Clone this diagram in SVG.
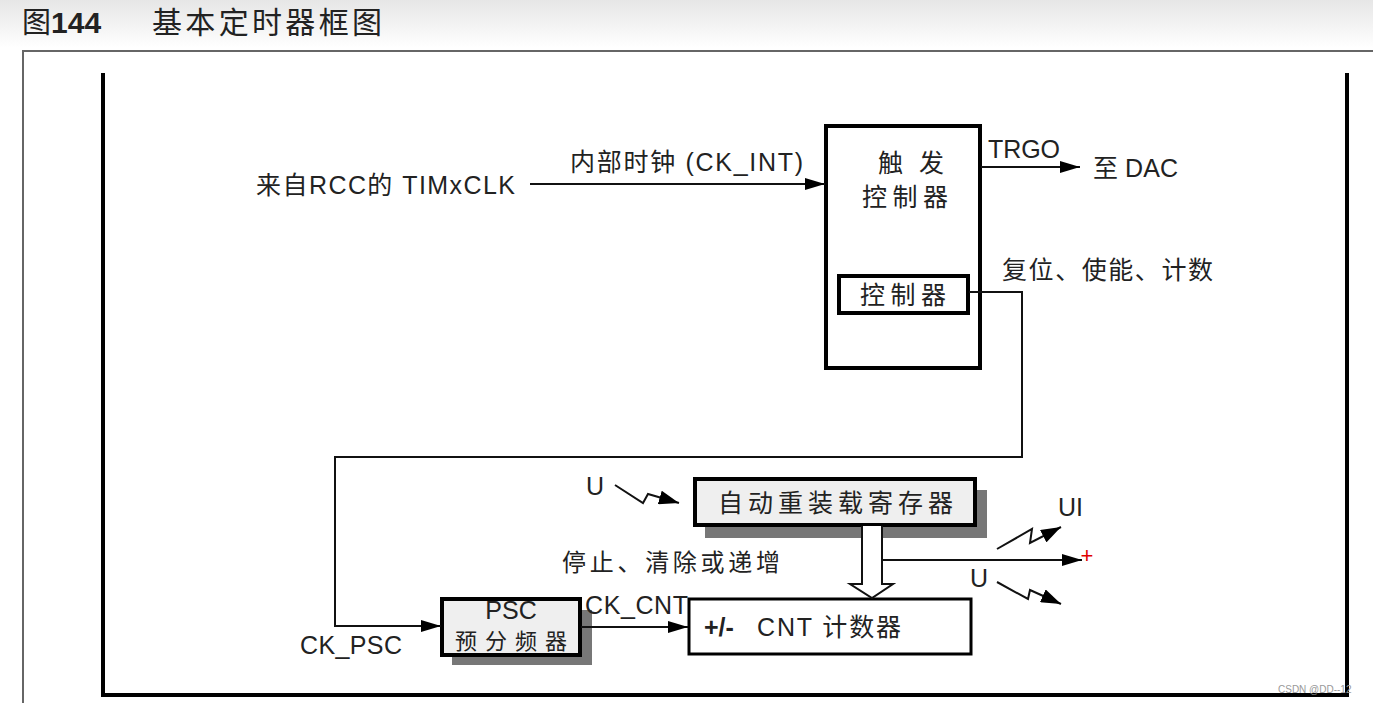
<svg xmlns="http://www.w3.org/2000/svg" width="1373" height="703" viewBox="0 0 1373 703">
<defs>
<linearGradient id="hdr" x1="0" y1="0" x2="0" y2="1">
<stop offset="0" stop-color="#e6e6e6"/>
<stop offset="1" stop-color="#ffffff"/>
</linearGradient>
<marker id="arr" viewBox="0 0 20 12" refX="20" refY="6" markerWidth="20" markerHeight="12" markerUnits="userSpaceOnUse" orient="auto">
<path d="M0,0 L20,6 L0,12 Z" fill="#000"/>
</marker>
<marker id="arrs" viewBox="0 0 20 14" refX="20" refY="7" markerWidth="20" markerHeight="14" markerUnits="userSpaceOnUse" orient="auto">
<path d="M0,0 L20,7 L0,14 Z" fill="#000"/>
</marker>
</defs>
<style>
.t{font-family:"Liberation Sans","Noto Sans CJK SC",sans-serif;fill:#222;font-size:25px}
.c{font-family:"Noto Sans CJK SC","Liberation Sans",sans-serif;fill:#222}
.ln{stroke:#111;stroke-width:2;fill:none}
.box{stroke:#000;stroke-width:4}
</style>
<rect x="0" y="0" width="1373" height="48" fill="url(#hdr)"/>
<text x="22" y="33" class="c" font-size="29" fill="#333">图<tspan font-family="Liberation Sans" font-weight="bold" font-size="30">144</tspan></text>
<text x="152" y="33" class="c" font-size="30" fill="#333" textLength="230" lengthAdjust="spacing">基本定时器框图</text>
<path d="M23,703 L23,51 L1373,51" fill="none" stroke="#666" stroke-width="2"/>
<path d="M103,73 L103,695 L1347,695 L1347,73" fill="none" stroke="#000" stroke-width="4"/>

<g id="trigger">
<rect x="826" y="126" width="154" height="242" fill="#fff" class="box"/>
<text x="878" y="172" class="c" font-size="25" textLength="66" lengthAdjust="spacing">触发</text>
<text x="862" y="206" class="c" font-size="25" textLength="86" lengthAdjust="spacing">控制器</text>
<rect x="839" y="276" width="129" height="37" fill="#fff" class="box"/>
<text x="860" y="304" class="c" font-size="25" textLength="86" lengthAdjust="spacing">控制器</text>
</g>

<g id="reload">
<rect x="705" y="490" width="282" height="48" fill="#777"/>
<rect x="695" y="479" width="280" height="46" fill="#efefef" class="box"/>
<text x="718" y="512" class="c" font-size="25" textLength="235" lengthAdjust="spacing">自动重装载寄存器</text>
</g>

<g id="psc">
<rect x="452" y="610" width="140" height="55" fill="#777"/>
<rect x="442" y="599" width="138" height="56" fill="#efefef" class="box"/>
<text x="511" y="619" class="t" font-size="21" text-anchor="middle">PSC</text>
<text x="455" y="649" class="c" font-size="22" textLength="112" lengthAdjust="spacing">预分频器</text>
</g>

<g id="cnt">
<rect x="689" y="599" width="282" height="55" fill="#fff" stroke="#000" stroke-width="3"/>
<text x="704" y="636" class="t" font-weight="bold" font-size="24">+/-</text>
<text x="757" y="636" class="t" textLength="144" lengthAdjust="spacing">CNT <tspan class="c">计数器</tspan></text>
</g>

<g id="connectors">
<path d="M530,184 L825,184" class="ln" marker-end="url(#arr)"/>
<path d="M981,167 L1080,167" class="ln" marker-end="url(#arr)"/>
<path d="M969,292 L1022,292 L1022,457 L335,457 L335,626 L441,626" class="ln" marker-end="url(#arr)"/>
<path d="M581,627 L688,627" class="ln" marker-end="url(#arr)"/>
<path d="M882,560 L1082,560" class="ln" marker-end="url(#arr)"/>
<path d="M862,526 L862,584 L850,584 L872,598 L893,584 L882,584 L882,526" fill="#fff" stroke="#111" stroke-width="2"/>
<path d="M615,485 L643,503 L648,494 L679,503" class="ln" marker-end="url(#arrs)"/>
<path d="M997,549 L1032,529 L1030,543 L1061,527" class="ln" marker-end="url(#arrs)"/>
<path d="M997,582 L1028,599 L1030,590 L1061,604" class="ln" marker-end="url(#arrs)"/>
</g>

<g id="labels">
<text x="256" y="194" class="t" textLength="259" lengthAdjust="spacing">来自RCC的 TIMxCLK</text>
<text x="570" y="171" class="t" textLength="233" lengthAdjust="spacing">内部时钟 (CK_INT)</text>
<text x="988" y="158" class="t" textLength="72" lengthAdjust="spacing">TRGO</text>
<text x="1093" y="177" class="t" textLength="85" lengthAdjust="spacing">至 DAC</text>
<text x="1002" y="279" class="c" font-size="25" textLength="211" lengthAdjust="spacing">复位、使能、计数</text>
<text x="562" y="571" class="c" font-size="24" textLength="218" lengthAdjust="spacing">停止、清除或递增</text>
<text x="586" y="495" class="t">U</text>
<text x="585" y="614" class="t" textLength="103" lengthAdjust="spacing">CK_CNT</text>
<text x="300" y="654" class="t" textLength="102" lengthAdjust="spacing">CK_PSC</text>
<text x="1058" y="516" class="t">UI</text>
<text x="970" y="587" class="t">U</text>
<text x="1087" y="563" font-family="Liberation Sans,sans-serif" font-size="22" fill="#e00000" text-anchor="middle">+</text>
<text x="1278" y="693" font-family="Liberation Sans,sans-serif" font-size="10" fill="#999">CSDN @DD--12</text>
</g>
</svg>
